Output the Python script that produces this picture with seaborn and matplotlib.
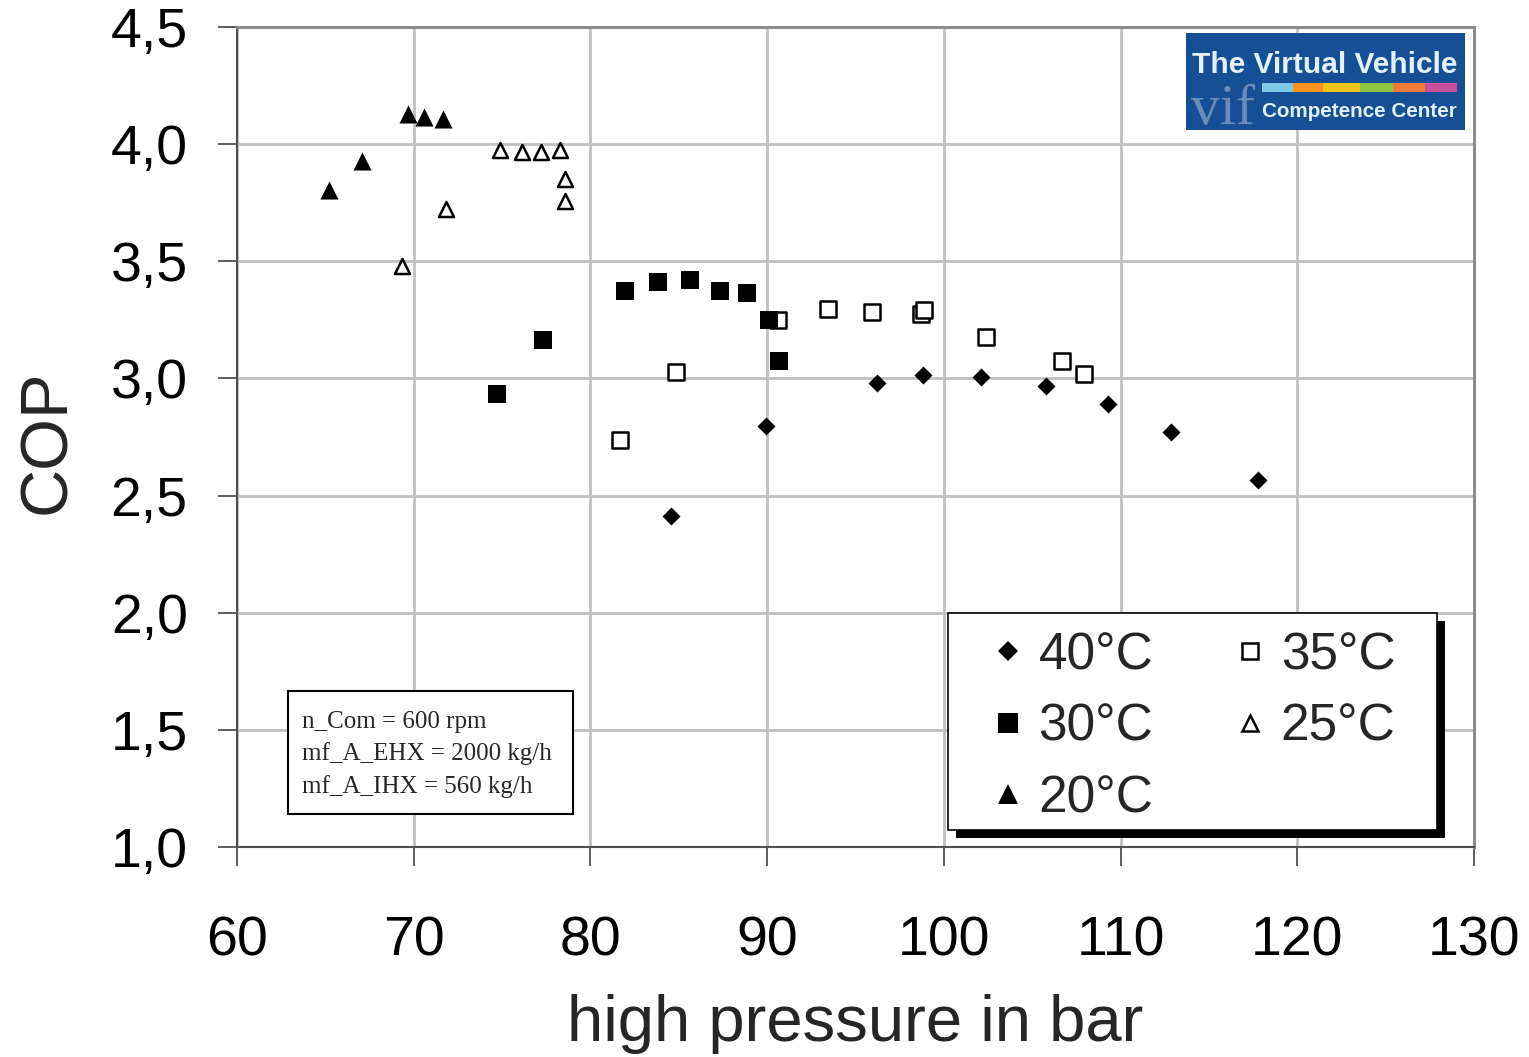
import matplotlib
matplotlib.use("Agg")
import matplotlib.pyplot as plt
import seaborn as sns
import pandas as pd
from matplotlib.patches import Rectangle
from matplotlib.lines import Line2D

# ---------------- data ----------------
p40 = [84.56, 89.94, 96.24, 98.84, 102.09, 105.77, 109.31, 112.86, 117.78]
c40 = [2.413, 2.797, 2.979, 3.015, 3.005, 2.969, 2.890, 2.771, 2.567]
p35 = [81.67, 84.84, 90.63, 93.45, 95.94, 98.70, 98.90, 102.39, 106.69, 107.92]
c35 = [2.737, 3.029, 3.249, 3.296, 3.282, 3.275, 3.290, 3.178, 3.074, 3.018]
p30 = [74.71, 77.32, 81.96, 83.81, 85.64, 87.34, 88.86, 90.11, 90.69]
c30 = [2.934, 3.164, 3.375, 3.410, 3.422, 3.375, 3.363, 3.248, 3.074]
p25 = [69.36, 71.81, 74.88, 76.11, 77.18, 78.26, 78.58, 78.58]
c25 = [3.480, 3.723, 3.975, 3.968, 3.968, 3.975, 3.850, 3.757]
p20 = [65.21, 67.06, 69.66, 70.58, 71.68]
c20 = [3.804, 3.929, 4.127, 4.117, 4.106]

x_ticks = [60, 70, 80, 90, 100, 110, 120, 130]
x_tick_labels = ["60", "70", "80", "90", "100", "110", "120", "130"]
y_ticks = [1.0, 1.5, 2.0, 2.5, 3.0, 3.5, 4.0, 4.5]
y_tick_labels = ["1,0", "1,5", "2,0", "2,5", "3,0", "3,5", "4,0", "4,5"]

legend_order = ["40°C", "30°C", "20°C", "35°C", "25°C"]
note_lines = ["n_Com = 600 rpm", "mf_A_EHX = 2000 kg/h", "mf_A_IHX = 560 kg/h"]

frames = []
for lab, xs, ys in [("40°C", p40, c40), ("35°C", p35, c35), ("25°C", p25, c25),
                    ("30°C", p30, c30), ("20°C", p20, c20)]:
    frames.append(pd.DataFrame({"pressure": xs, "COP": ys, "T": lab}))
df = pd.concat(frames, ignore_index=True)

# styles
styles = {
    "40°C": dict(marker="D", face="black", s=84, lw=0.0),
    "35°C": dict(marker="s", face="white", s=120, lw=1.8),
    "25°C": dict(marker="^", face="white", s=117, lw=1.8),
    "30°C": dict(marker="s", face="black", s=169, lw=0.0),
    "20°C": dict(marker="^", face="black", s=169, lw=0.0),
}

# ---------------- figure ----------------
sns.set_style("white")
plt.rcParams["font.family"] = ["Liberation Sans", "DejaVu Sans"]

W, H = 1529, 1057
fig = plt.figure(figsize=(W / 100, H / 100), dpi=100)
AX_L, AX_R, AX_T, AX_B = 237, 1474, 27, 847
ax = fig.add_axes([AX_L / W, 1 - AX_B / H, (AX_R - AX_L) / W, (AX_B - AX_T) / H])


def axx(px):
    return (px - AX_L) / (AX_R - AX_L)


def axy(py):
    return (AX_B - py) / (AX_B - AX_T)


for lab in ["40°C", "35°C", "25°C", "30°C", "20°C"]:
    st = styles[lab]
    sub = df[df["T"] == lab]
    sns.scatterplot(data=sub, x="pressure", y="COP", marker=st["marker"],
                    color=st["face"], edgecolor="black", s=st["s"],
                    linewidth=st["lw"], ax=ax, zorder=3, legend=False)

ax.set_xlim(60, 130)
ax.set_ylim(1.0, 4.5)
ax.set_xticks(x_ticks)
ax.set_xticklabels(x_tick_labels)
ax.set_yticks(y_ticks)
ax.set_yticklabels(y_tick_labels)
ax.grid(True, color="#c0c0c0", linewidth=2.0)
ax.set_axisbelow(True)

for side in ["left", "bottom"]:
    ax.spines[side].set_color("#505050")
    ax.spines[side].set_linewidth(1.5)
for side in ["top", "right"]:
    ax.spines[side].set_color("#8c8c8c")
    ax.spines[side].set_linewidth(2.2)

ax.tick_params(axis="both", direction="out", length=13.5, width=1.3,
               color="#505050", labelsize=40, labelcolor="black")
ax.tick_params(axis="x", pad=36, bottom=True)
ax.tick_params(axis="y", pad=22, left=True)

ax.set_xlabel("high pressure in bar", fontsize=47, va="center")
ax.xaxis.set_label_coords(0.5, axy(1024))
ax.set_ylabel("COP", fontsize=48, va="center")
ax.yaxis.set_label_coords(axx(48), axy(442))

# ---------------- legend ----------------
handles = []
for lab in legend_order:
    st = styles[lab]
    ms = st["s"] ** 0.5 * 1.08
    handles.append(Line2D([], [], linestyle="none", marker=st["marker"],
                          markersize=ms, markerfacecolor=st["face"],
                          markeredgecolor="black", markeredgewidth=st["lw"]))

# frame + shadow drawn manually
lx0, lx1, ly0, ly1 = 948, 1437, 613, 830
ax.add_patch(Rectangle((axx(lx0 + 8), axy(ly1 + 8)), axx(lx1) - axx(lx0),
                       axy(ly0) - axy(ly1), transform=ax.transAxes,
                       facecolor="black", edgecolor="none", zorder=6, clip_on=False))
ax.add_patch(Rectangle((axx(lx0), axy(ly1)), axx(lx1) - axx(lx0),
                       axy(ly0) - axy(ly1), transform=ax.transAxes,
                       facecolor="white", edgecolor="black", linewidth=1.2,
                       zorder=7, clip_on=False))
leg = ax.legend(handles, legend_order, ncol=2, loc="upper left",
                bbox_to_anchor=(axx(982), axy(631)), frameon=False,
                fontsize=37, borderpad=0, borderaxespad=0, labelspacing=0.44,
                handlelength=1.0, handletextpad=0.1, columnspacing=1.38)
leg.set_zorder(8)

# ---------------- note box ----------------
ax.add_patch(Rectangle((axx(288), axy(814)), axx(573) - axx(288), axy(691) - axy(814),
                       transform=ax.transAxes, facecolor="white", edgecolor="black",
                       linewidth=1.5, zorder=4))
for line, py in zip(note_lines, [722, 754, 787]):
    ax.text(axx(302), axy(py), line, transform=ax.transAxes, fontsize=18,
            family=["Liberation Serif", "DejaVu Serif"], va="center", ha="left",
            zorder=5)

# ---------------- logo ----------------
ax.add_patch(Rectangle((axx(1186), axy(130)), axx(1465) - axx(1186), axy(33) - axy(130),
                       transform=ax.transAxes, facecolor="#164f96", edgecolor="none",
                       zorder=6, clip_on=False))
vif = ax.text(axx(1191), axy(124), "vif", transform=ax.transAxes, fontsize=40,
              family=["Liberation Serif", "DejaVu Serif"], color="#7f9cc4", alpha=0.8,
              ha="left", va="baseline", zorder=7)
t1 = ax.text(axx(1192), axy(73), "The Virtual Vehicle", transform=ax.transAxes,
             fontsize=27, family=["Liberation Sans", "DejaVu Sans"], weight="bold",
             color="#e4f1ff", ha="left", va="baseline", zorder=8)
t2 = ax.text(axx(1262), axy(117), "Competence Center", transform=ax.transAxes,
             fontsize=17, family=["Liberation Sans", "DejaVu Sans"], weight="bold",
             color="#e4f1ff", ha="left", va="baseline", zorder=8)
bar_cols = ["#7fc8e8", "#f7941d", "#f0c419", "#8dc63f", "#ee7b3a", "#c8509c"]
bar_edges = [1262, 1293, 1323, 1360, 1393, 1425, 1457]
for col, a, b in zip(bar_cols, bar_edges[:-1], bar_edges[1:]):
    ax.add_patch(Rectangle((axx(a), axy(92)), axx(b) - axx(a), axy(83) - axy(92),
                           transform=ax.transAxes, facecolor=col, edgecolor="none",
                           zorder=7, clip_on=False))

fig.canvas.draw()
r = fig.canvas.get_renderer()
for t, wpx in [(t1, 1457 - 1192), (t2, 1457 - 1262), (vif, 1255 - 1191)]:
    w = t.get_window_extent(r).width
    t.set_fontsize(t.get_fontsize() * wpx / w)

fig.savefig("out.png", dpi=100)
